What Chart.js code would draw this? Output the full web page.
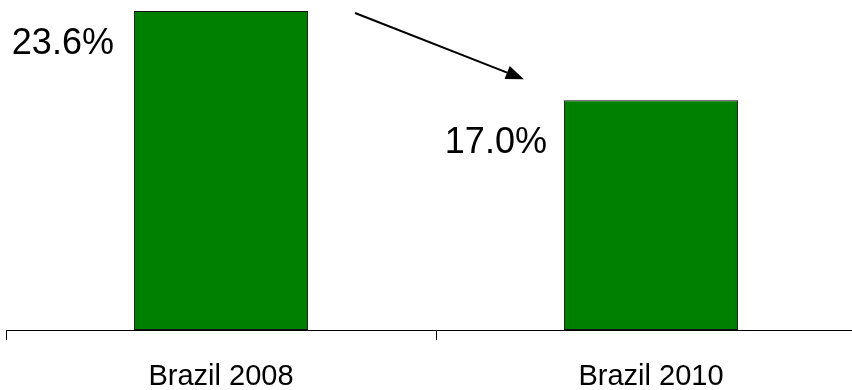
<!DOCTYPE html>
<html>
<head>
<meta charset="utf-8">
<script src="https://cdn.jsdelivr.net/npm/chart.js@4/dist/chart.umd.min.js"></script>
<style>
    html, body { margin: 0; padding: 0; background: #fff; overflow: hidden; }
    #wrap { width: 866px; height: 390px; }
</style>
</head>
<body>
<div id="wrap"><canvas id="shareChart"></canvas></div>
<script>
var categories = ['Brazil 2008', 'Brazil 2010'];
var shares = [23.6, 17.0];
var shareLabels = ['23.6%', '17.0%'];

var ctx = document.getElementById('shareChart');

// value labels to the left of each bar, plus the downward arrow between them
var notesPlugin = {
    id: 'notes',
    afterDatasetsDraw: function (chart, args, opts) {
        var c = chart.ctx;
        var bars = chart.getDatasetMeta(0).data;
        c.save();
        c.fillStyle = '#000';
        c.font = '36px "Liberation Sans", Arial, sans-serif';
        c.textAlign = 'right';
        c.textBaseline = 'middle';
        bars.forEach(function (bar, i) {
            var left = bar.x - bar.width / 2;
            c.fillText(shareLabels[i], left - opts.gap[i], bar.y + opts.drop[i]);
        });

        var a = bars[0], b = bars[1];
        var x1 = a.x + a.width / 2 + 47, y1 = a.y + 2;
        var x2 = b.x - b.width / 2 - 40, y2 = b.y - 21;
        var ang = Math.atan2(y2 - y1, x2 - x1);
        var len = 18, half = 7;
        var bx = x2 - len * Math.cos(ang), by = y2 - len * Math.sin(ang);
        c.strokeStyle = '#000';
        c.lineWidth = 2;
        c.beginPath();
        c.moveTo(x1, y1);
        c.lineTo(bx, by);
        c.stroke();
        c.beginPath();
        c.moveTo(x2, y2);
        c.lineTo(bx + half * Math.sin(ang), by - half * Math.cos(ang));
        c.lineTo(bx - half * Math.sin(ang), by + half * Math.cos(ang));
        c.closePath();
        c.fill();
        c.restore();
    }
};

new Chart(ctx, {
    type: 'bar',
    data: {
        labels: categories,
        datasets: [{
            data: shares,
            backgroundColor: '#008000',
            borderColor: '#111',
            borderWidth: 1,
            borderSkipped: false,
            barPercentage: 0.405,
            categoryPercentage: 1
        }]
    },
    options: {
        responsive: true,
        maintainAspectRatio: false,
        animation: false,
        layout: { padding: { left: 6, right: 0, top: 0, bottom: 0 } },
        plugins: {
            legend: { display: false },
            tooltip: { enabled: false },
            notes: { gap: [20, 17], drop: [33, 43] }
        },
        scales: {
            x: {
                afterFit: function (scale) { scale.height = 60; },
                grid: {
                    drawOnChartArea: false,
                    drawTicks: true,
                    tickLength: 10,
                    color: '#000',
                    lineWidth: 1
                },
                border: { display: true, color: '#000', width: 1 },
                ticks: {
                    color: '#000',
                    padding: 20,
                    font: { family: '"Liberation Sans", Arial, sans-serif', size: 29 }
                }
            },
            y: {
                display: false,
                min: 0,
                max: 24.41
            }
        }
    },
    plugins: [notesPlugin]
});
</script>
</body>
</html>
